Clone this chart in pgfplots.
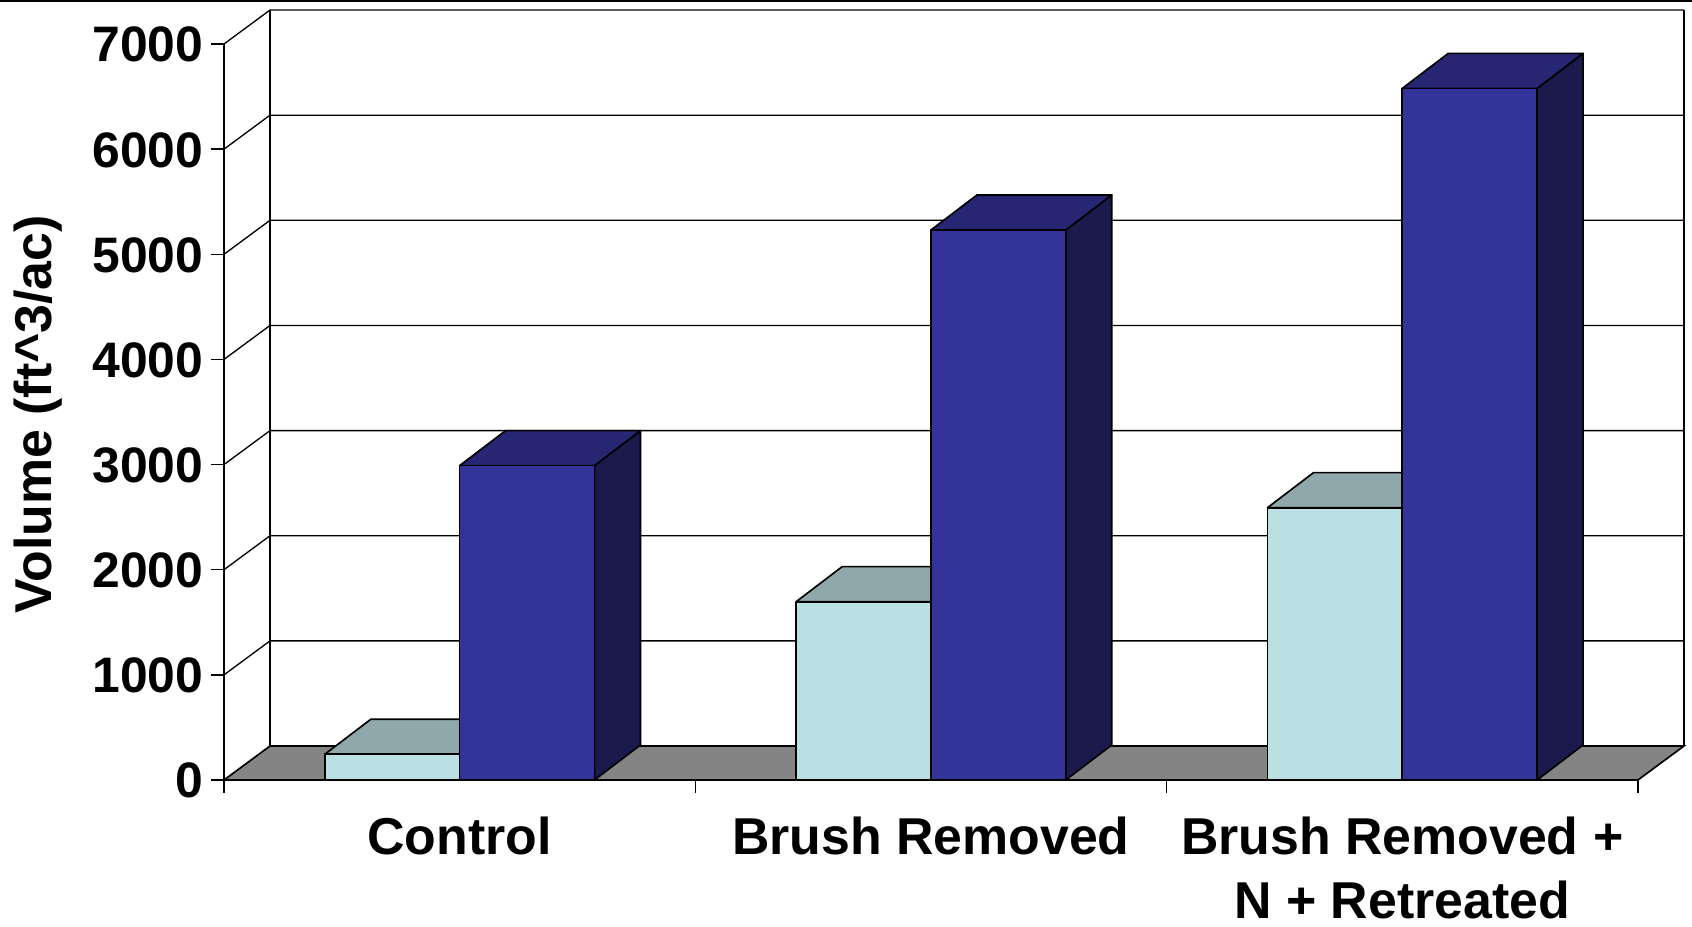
\documentclass[border=0pt]{standalone}
\usepackage{fontspec}
\setmainfont{Liberation Sans}
\usepackage{pgfplots}
\pgfplotsset{compat=1.18}
\definecolor{lightf}{HTML}{BAE0E3}
\definecolor{lightt}{HTML}{8FA8AB}
\definecolor{darkf}{HTML}{333399}
\definecolor{darkt}{HTML}{262673}
\definecolor{darks}{HTML}{1A1A4D}
\definecolor{floorc}{HTML}{848484}
% depth of the 3-D box in axis units
\def\dxw{0.0976}\def\dyw{323}
\newcommand{\threedbar}[6]{%
  \pgfmathsetmacro\xa{#1+\dxw}\pgfmathsetmacro\xb{#2+\dxw}%
  \pgfmathsetmacro\vt{#3+333}\pgfmathsetmacro\vb{333}%
  \addplot[draw=black,line width=1pt,line join=round,fill=#6] coordinates {(#2,0)(\xb,\vb)(\xb,\vt)(#2,#3)} --cycle;
  \addplot[draw=black,line width=1pt,line join=round,fill=#5] coordinates {(#1,#3)(#2,#3)(\xb,\vt)(\xa,\vt)} --cycle;
  \addplot[draw=black,line width=1pt,line join=round,fill=#4] coordinates {(#1,0)(#2,0)(#2,#3)(#1,#3)} --cycle;
}
\newcommand{\gridrow}[1]{%
  \pgfmathsetmacro\vb{#1+\dyw}%
  \addplot[draw=black,line width=0.8pt] coordinates {(0,#1)(\dxw,\vb)(3.0976,\vb)};
}
\begin{document}
\begin{tikzpicture}
\useasboundingbox (-134.4pt,-88.2pt) rectangle (880.8pt,468pt);
\begin{axis}[
  scale only axis, width=880.8pt, height=468pt,
  at={(0pt,0pt)}, anchor=south west,
  xmin=0, xmax=3.1147, ymin=0, ymax=7418.6,
  clip=false,
  axis x line*=bottom, axis y line*=left,
  axis line style={draw=none},
  tick align=outside,
  ytick={0,1000,2000,3000,4000,5000,6000,7000},
  xtick={0.5,1.5,2.5},
  minor xtick={0,1,2,3},
  xticklabels={Control,Brush Removed,{Brush Removed +\\N + Retreated}},
  major x tick style={draw=none},
  minor x tick style={draw=black,line width=0.8pt},
  y tick style={draw=black,line width=0.8pt},
  major tick length=7.8pt,
  minor tick length=7.8pt,
  /pgf/number format/assume math mode=true,
  /pgf/number format/1000 sep={},
  yticklabel style={font=\fontsize{29.9}{32}\selectfont\bfseries,inner xsep=0pt,xshift=-4.5pt,yshift=-0.5pt},
  xticklabel style={font=\fontsize{31.1}{38.4}\selectfont\bfseries,align=center,anchor=north,inner sep=0pt,yshift=-14pt},
  ylabel={Volume (ft\textasciicircum 3/ac)},
  ylabel style={font=\fontsize{31.1}{32}\selectfont\bfseries,at={(axis description cs:-0.1267,0.469)},anchor=center},
]
% top rule of the slide
\addplot[draw=black,line width=1.6pt] coordinates {(-0.4753,7412)(3.1147,7412)};
% floor
\addplot[draw=black,line width=1pt,fill=floorc] coordinates {(0,0)(3,0)(3.0976,323)(0.0976,323)} --cycle;
% walls and gridlines
\gridrow{1000}\gridrow{2000}\gridrow{3000}\gridrow{4000}\gridrow{5000}\gridrow{6000}\gridrow{7000}
\addplot[draw=black,line width=0.8pt] coordinates {(0,0)(0,7000)};
\addplot[draw=black,line width=0.8pt] coordinates {(0.0976,323)(0.0976,7323)};
\addplot[draw=black,line width=0.8pt] coordinates {(3.0976,323)(3.0976,7323)};
% bars
\threedbar{0.214}{0.5}{245}{lightf}{lightt}{lightt}
\threedbar{0.5}{0.786}{2990}{darkf}{darkt}{darks}
\threedbar{1.214}{1.5}{1696}{lightf}{lightt}{lightt}
\threedbar{1.5}{1.786}{5231}{darkf}{darkt}{darks}
\threedbar{2.214}{2.5}{2590}{lightf}{lightt}{lightt}
\threedbar{2.5}{2.786}{6578}{darkf}{darkt}{darks}
\end{axis}
\end{tikzpicture}
\end{document}
